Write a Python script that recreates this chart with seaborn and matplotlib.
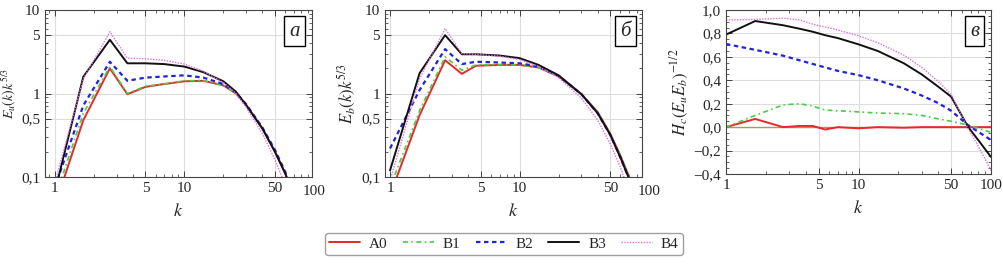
import numpy as np
import pandas as pd
import matplotlib
matplotlib.use("Agg")
import matplotlib.pyplot as plt
import matplotlib.ticker as mticker
import seaborn as sns

series = ["A0", "B1", "B2", "B3", "B4"]

# panel a: E_u(k) k^{5/3}
k_a = [1, 1.66, 2.66, 3.63, 5, 7, 10, 14, 20, 25, 30, 40, 50, 60, 70]
a_A0 = [0.045, 0.48, 2.0, 0.98, 1.2, 1.3, 1.4, 1.42, 1.25, 1.0, 0.73, 0.38, 0.2, 0.11, 0.057]
a_B1 = [0.055, 0.58, 2.1, 1.0, 1.22, 1.3, 1.42, 1.43, 1.26, 1.0, 0.73, 0.38, 0.2, 0.11, 0.057]
a_B2 = [0.075, 0.72, 2.4, 1.42, 1.55, 1.6, 1.65, 1.55, 1.3, 1.02, 0.74, 0.39, 0.21, 0.115, 0.06]
a_B3 = [0.066, 1.59, 4.4, 2.3, 2.3, 2.25, 2.1, 1.8, 1.4, 1.05, 0.72, 0.38, 0.2, 0.11, 0.057]
a_B4 = [0.085, 1.5, 5.5, 2.65, 2.6, 2.5, 2.25, 1.85, 1.35, 1.0, 0.68, 0.33, 0.16, 0.08, 0.035]

# panel b: E_b(k) k^{5/3}
k_b = [1, 1.69, 2.66, 3.58, 4.6, 7, 10, 14, 20, 30, 40, 50, 60, 70, 80]
b_A0 = [0.06, 0.55, 2.5, 1.72, 2.15, 2.2, 2.2, 2.05, 1.6, 0.98, 0.6, 0.33, 0.18, 0.1, 0.052]
b_B1 = [0.075, 0.62, 2.75, 1.9, 2.2, 2.22, 2.2, 2.05, 1.6, 0.98, 0.6, 0.33, 0.18, 0.1, 0.052]
b_B2 = [0.22, 1.1, 3.4, 2.25, 2.4, 2.35, 2.3, 2.1, 1.62, 0.98, 0.58, 0.32, 0.17, 0.095, 0.05]
b_B3 = [0.12, 1.75, 5.0, 2.95, 2.95, 2.85, 2.65, 2.2, 1.65, 0.98, 0.58, 0.32, 0.17, 0.095, 0.05]
b_B4 = [0.09, 1.5, 6.0, 3.0, 2.95, 2.8, 2.55, 2.1, 1.55, 0.88, 0.48, 0.25, 0.13, 0.065, 0.03]

# panel c: H_c (E_u E_b)^{-1/2}
k_c = [1, 1.66, 2.7, 3.6, 4.5, 5.6, 7, 10, 14, 22, 30, 40, 50, 67, 80, 100]
c_A0 = [0.0, 0.07, 0.0, 0.01, 0.01, -0.02, 0.0, -0.01, 0.0, -0.005, 0.0, 0.0, 0.0, 0.0, 0.0, 0.0]
c_B1 = [0.0, 0.10, 0.19, 0.20, 0.18, 0.145, 0.14, 0.13, 0.12, 0.115, 0.10, 0.07, 0.05, 0.017, -0.01, -0.045]
c_B2 = [0.71, 0.66, 0.61, 0.57, 0.54, 0.51, 0.48, 0.444, 0.40, 0.33, 0.27, 0.205, 0.14, 0.017, -0.04, -0.11]
c_B3 = [0.79, 0.906, 0.87, 0.84, 0.815, 0.785, 0.76, 0.707, 0.65, 0.545, 0.45, 0.345, 0.26, 0.003, -0.11, -0.255]
c_B4 = [0.915, 0.92, 0.93, 0.915, 0.88, 0.855, 0.83, 0.78, 0.72, 0.615, 0.51, 0.39, 0.28, -0.01, -0.16, -0.37]

colors = {"A0": "#e8282a", "B1": "#44d044", "B2": "#2222dd", "B3": "#111111", "B4": "#e070e0"}
dashes = {"A0": "", "B1": (3, 2, 1, 2), "B2": (2, 1.6), "B3": "", "B4": (1, 1)}
widths = {"A0": 1.4, "B1": 1.2, "B2": 1.6, "B3": 1.4, "B4": 1.0}


def long_form(k, values):
    rows = []
    for name, vals in zip(series, values):
        for kk, v in zip(k, vals):
            rows.append({"k": kk, "v": v, "run": name})
    return pd.DataFrame(rows)


df_a = long_form(k_a, [a_A0, a_B1, a_B2, a_B3, a_B4])
df_b = long_form(k_b, [b_A0, b_B1, b_B2, b_B3, b_B4])
df_c = long_form(k_c, [c_A0, c_B1, c_B2, c_B3, c_B4])

sns.set_style("ticks")
plt.rcParams["font.family"] = ["Liberation Serif", "DejaVu Serif"]
plt.rcParams["mathtext.fontset"] = "stix"
plt.rcParams["font.size"] = 11

fig = plt.figure(figsize=(10.04, 2.64), dpi=100)
ax_a = fig.add_axes([0.0448, 0.3295, 0.266, 0.6326])
ax_b = fig.add_axes([0.3835, 0.3295, 0.256, 0.6326])
ax_c = fig.add_axes([0.7231, 0.341, 0.264, 0.621])


def draw(ax, df):
    for name in series:
        sub = df[df["run"] == name]
        sns.lineplot(data=sub, x="k", y="v", ax=ax, color=colors[name],
                     lw=widths[name], dashes=False, legend=False, label=name)
        line = ax.get_lines()[-1]
        if dashes[name]:
            line.set_dashes(dashes[name])


def comma(x, pos):
    s = ("%g" % round(x, 2)).replace(".", ",").replace("-", "\u2212")
    return s


def style_log(ax, xmax):
    ax.set_xscale("log")
    ax.set_yscale("log")
    ax.set_xlim(xmax[0], xmax[1])
    ax.set_ylim(0.1, 10)
    ax.set_xticks([1, 5, 10, 50])
    ax.xaxis.set_major_formatter(mticker.FuncFormatter(lambda x, p: "%g" % x))
    ax.set_yticks([0.1, 0.5, 1, 5, 10])
    ax.yaxis.set_major_formatter(mticker.FuncFormatter(comma))
    ax.xaxis.set_minor_formatter(mticker.NullFormatter())
    ax.yaxis.set_minor_formatter(mticker.NullFormatter())
    for v in [1, 5, 10, 50]:
        ax.axvline(v, color="#dddddd", lw=0.8, zorder=0)
    for v in [0.5, 1, 5]:
        ax.axhline(v, color="#dddddd", lw=0.8, zorder=0)
    ax.text(100, -0.045, "100", transform=ax.get_xaxis_transform(),
            ha="center", va="top", fontsize=11, clip_on=False)


def finish(ax, letter):
    ax.tick_params(which="both", direction="in", top=True, right=True, labelsize=11)
    ax.tick_params(which="major", length=4, width=0.6)
    ax.tick_params(which="minor", length=2, width=0.5)
    ax.set_xlabel("$k$", fontsize=13, labelpad=6)
    for s in ax.spines.values():
        s.set_color("#444444")
        s.set_linewidth(0.8)
    ax.text(0.955, 0.93, letter, transform=ax.transAxes, ha="right", va="top",
            fontsize=15, style="italic",
            bbox=dict(boxstyle="square,pad=0.25", fc="white", ec="black", lw=1))


draw(ax_a, df_a)
style_log(ax_a, (0.84, 96.5))
finish(ax_a, "а")
ax_a.set_ylabel("$E_u(k)k^{5/3}$", fontsize=10)
ax_a.yaxis.set_label_coords(-0.1, 0.5)

draw(ax_b, df_b)
style_log(ax_b, (0.915, 88))
finish(ax_b, "б")
ax_b.set_ylabel("$E_b(k)k^{5/3}$", fontsize=12, labelpad=2)

ax_c.axhline(0, color="#b09070", lw=1.0, zorder=1)
draw(ax_c, df_c)
ax_c.set_xscale("log")
ax_c.set_xlim(1, 100)
ax_c.set_ylim(-0.4, 1.0)
ax_c.set_xticks([1, 5, 10, 50, 100])
ax_c.xaxis.set_major_formatter(mticker.FuncFormatter(lambda x, p: "%g" % x))
ax_c.xaxis.set_minor_formatter(mticker.NullFormatter())
ax_c.set_yticks(np.round(np.arange(-0.4, 1.01, 0.2), 1))
ax_c.yaxis.set_major_formatter(mticker.FuncFormatter(lambda x, p: ("%.1f" % x).replace(".", ",").replace("-", "\u2212")))
ax_c.yaxis.set_minor_locator(mticker.MultipleLocator(0.05))
for v in [5, 10, 50]:
    ax_c.axvline(v, color="#dddddd", lw=0.8, zorder=0)
for v in [-0.2, 0.2, 0.4, 0.6, 0.8]:
    ax_c.axhline(v, color="#dddddd", lw=0.8, zorder=0)
finish(ax_c, "в")
ax_c.set_ylabel("$H_c(E_uE_b)^{-1/2}$", fontsize=12, labelpad=2)

handles = ax_c.get_lines()[1:6]
leg = fig.legend(handles, series, loc="center", bbox_to_anchor=(0.502, 0.076), ncol=5,
                 frameon=True, fancybox=True, edgecolor="#888888", fontsize=11,
                 handlelength=2.0, columnspacing=1.0, handletextpad=0.6, borderpad=0.3)

fig.savefig("out.png", dpi=100)
